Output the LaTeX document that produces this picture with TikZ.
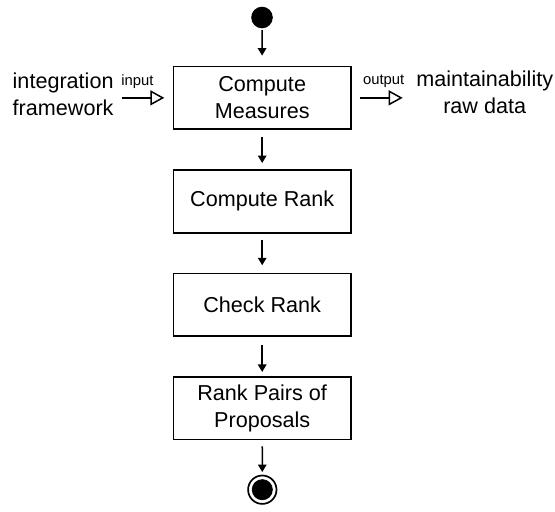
\documentclass[tikz,border=0pt]{standalone}
\usepackage{fontspec}
\setmainfont{Liberation Sans}
\usetikzlibrary{arrows.meta}
\begin{document}
\begin{tikzpicture}[x=1pt,y=-1pt,
  big/.style={font=\fontsize{21.6}{27}\selectfont},
  small/.style={font=\fontsize{14.8}{17}\selectfont, inner sep=0pt},
  actbox/.style={draw, line width=1.7pt, minimum width=177.3pt, minimum height=62.8pt,
    align=center, big, inner sep=0pt},
  flow/.style={line width=1.5pt, -{Triangle[length=7.5pt,width=8.5pt]}},
  iolink/.style={line width=1.5pt, -{Triangle[open,length=14pt,width=15pt,line width=1.5pt]}}
]
\useasboundingbox (0,0) rectangle (555,512);

\node[circle, fill=black, minimum size=21.6pt, inner sep=0pt] (start) at (262,17.5) {};
\node[actbox] (m) at (262.2,97.85) {Compute\\Measures};
\node[actbox] (cr) at (262.2,201.3) {Compute Rank};
\node[actbox] (ck) at (262.2,304.8) {Check Rank};
\node[actbox] (rp) at (262.2,408.2) {Rank Pairs of\\Proposals};
\node[circle, draw, line width=1.7pt, minimum size=28.4pt, inner sep=0pt] (end) at (262.3,489.7) {};
\node[circle, fill=black, minimum size=21pt, inner sep=0pt] (endin) at (262.3,489.7) {};

\draw[flow, shorten <=1.7pt, shorten >=10pt] (start) -- (m);
\draw[flow, shorten <=6.7pt, shorten >=6pt] (m) -- (cr);
\draw[flow, shorten <=6pt, shorten >=7.3pt] (cr) -- (ck);
\draw[flow, shorten <=7.7pt, shorten >=4pt] (ck) -- (rp);
\draw[flow, shorten <=6pt, shorten >=2.6pt] (rp) -- (end);

\node[big, align=left, anchor=west, inner sep=0pt] (inf) at (12.5,94.3) {integration\\framework};
\node[big, align=center, inner sep=0pt] (outd) at (484.7,92.5) {maintainability\\raw data};

\coordinate (inpt) at (121.7,97.85);
\coordinate (outpt) at (402.7,97.85);
\draw[iolink, shorten >=8.4pt] (inpt) -- (m.west);
\draw[iolink, shorten <=8.3pt] (m.east) -- (outpt);
\node[small, anchor=base] (inlab) at (137.5,85.7) {input};
\node[small, anchor=base] (outlab) at (383.7,84.3) {output};
\end{tikzpicture}
\end{document}
